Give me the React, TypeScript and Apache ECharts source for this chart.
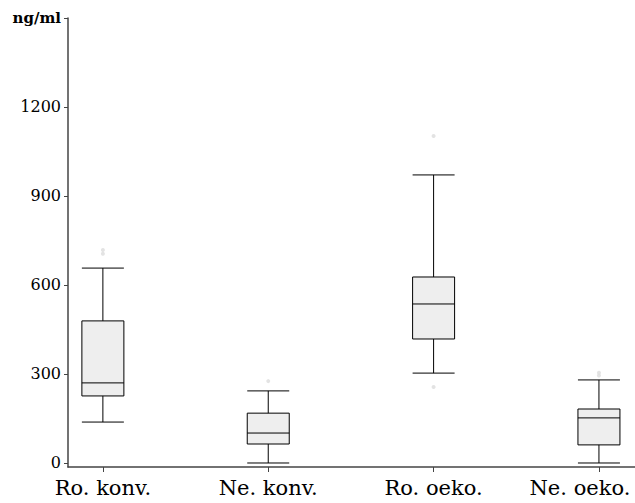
import React, { useEffect, useRef } from "react";
import * as echarts from "echarts";

const categories = ["Ro. konv.", "Ne. konv.", "Ro. oeko.", "Ne. oeko."];
// [min, Q1, median, Q3, max]
const boxValues = [
  [138, 226, 270, 479, 657],
  [0, 64, 101, 168, 243],
  [303, 418, 536, 627, 971],
  [0, 61, 152, 182, 280],
];
// [categoryIndex, value]
const outliers = [
  [0, 705],
  [0, 718],
  [1, 276],
  [2, 1102],
  [2, 256],
  [3, 295],
  [3, 304],
];
const yTicks = [0, 300, 600, 900, 1200, 1500];
const yUnit = "ng/ml";

export default function App() {
  const ref = useRef<HTMLDivElement>(null);
  useEffect(() => {
    if (!ref.current) return;
    const chart = echarts.init(ref.current, null, { renderer: "svg" });
    const font = "DejaVu Serif";
    const xLab = { fontFamily: font, fontSize: 21, color: "#000" };
    chart.setOption({
      animation: false,
      backgroundColor: "#ffffff",
      grid: { left: 68, right: 0, top: 18, bottom: 36, outerBoundsMode: "none", containLabel: false },
      xAxis: {
        type: "value",
        min: -0.211,
        max: 3.218,
        splitLine: { show: false },
        axisLine: { onZero: false, lineStyle: { color: "#444", width: 1.5 } },
        axisTick: { customValues: [0, 1, 2, 3], length: 5, lineStyle: { color: "#444" } },
        axisLabel: {
          customValues: [0, 1, 2, 3],
          formatter: (v: number) => {
            const i = Math.round(v);
            return i === categories.length - 1
              ? "{last|" + categories[i] + "}"
              : "{n|" + categories[i] + "}";
          },
          ...xLab,
          margin: 10,
          rich: {
            n: { ...xLab },
            last: { ...xLab, padding: [0, 38, 0, 0] },
          },
        },
      },
      yAxis: {
        type: "value",
        min: -13.5,
        max: 1500,
        splitLine: { show: false },
        axisLine: { onZero: false, lineStyle: { color: "#444", width: 1.5 } },
        axisTick: { customValues: yTicks, length: 4, lineStyle: { color: "#444" } },
        axisLabel: {
          customValues: yTicks,
          formatter: (v: number) => (v === 1500 ? "{u|" + yUnit + "}" : String(v)),
          fontFamily: font,
          fontSize: 16,
          color: "#000",
          margin: 7,
          rich: {
            u: { fontFamily: font, fontSize: 15, fontWeight: "bold", color: "#000" },
          },
        },
      },
      series: [
        {
          type: "boxplot",
          boxWidth: [42, 42],
          itemStyle: { color: "#eeeeee", borderColor: "#000", borderWidth: 1 },
          data: boxValues.map((b, i) => [i, ...b]),
          z: 3,
        },
        {
          type: "scatter",
          symbol: "circle",
          symbolSize: 4,
          itemStyle: { color: "#dcdcdc" },
          data: outliers,
          z: 2,
        },
      ],
    });
    return () => chart.dispose();
  }, []);
  return (
    <div
      ref={ref}
      style={{ position: "absolute", left: 0, top: 0, width: 635, height: 503 }}
    />
  );
}
